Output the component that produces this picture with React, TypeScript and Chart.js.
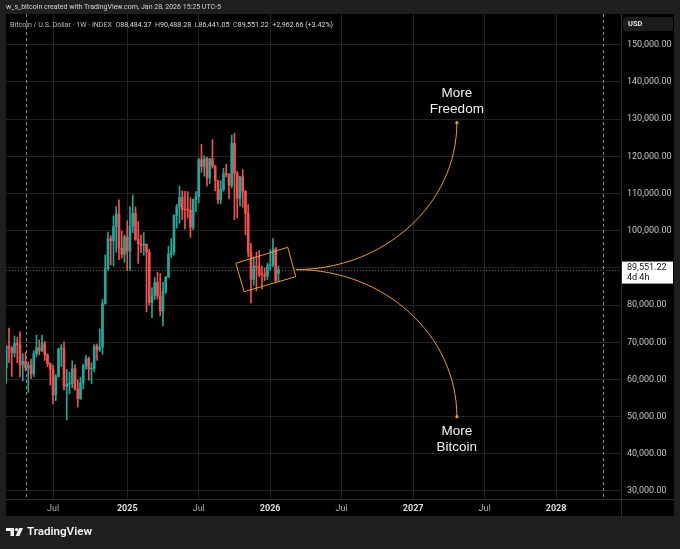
import React, { useEffect, useRef } from 'react';
import { Chart, registerables } from 'chart.js';

Chart.register(...registerables);

// week index 0 = week of 1 Jul 2024; first candle = week of 4 Mar 2024
const FIRST_WEEK = -17;

const opens = [
  63100, 68950, 68400, 67200, 69650, 69350, 63900, 64900, 63100, 63900,
  61500, 66900, 68500, 67750, 69650, 66650, 64250, 62700, 55850, 60800,
  68200, 68250, 58100, 58700, 58900, 62900, 57300, 54850, 59100, 63600,
  65600, 62800, 63000, 69000, 68000, 68700, 80400, 89800, 97900, 97300,
  101100, 104500, 95300, 93700, 98300, 94500, 101300, 104700, 97700, 96500,
  96100, 96300, 94300, 80700, 82600, 86100, 82400, 78400, 83700, 87500,
  93700, 94300, 104100, 106400, 109000, 105700, 105600, 105500, 100900, 108400,
  109200, 119100, 117300, 119400, 114200, 119300, 117400, 113500, 108300, 111100,
  115300, 115200, 112200, 123500, 115300, 108700, 114500, 110600, 104700, 94200,
  86900, 90400, 90200, 88200, 88100, 87800, 90600, 90800, 95100, 88484.37,
];
const highs = [
  69000, 73800, 68900, 71700, 71300, 72800, 66900, 67200, 64700, 65500,
  67700, 71900, 70600, 71900, 70200, 66900, 64500, 63800, 61300, 68400,
  69400, 70100, 62700, 62000, 65000, 64000, 59800, 60600, 64100, 66500,
  66000, 64500, 69400, 69500, 73600, 81500, 93500, 99600, 98700, 104000,
  106500, 108300, 99900, 98900, 102700, 106400, 109600, 106400, 102500, 98800,
  99500, 96500, 95000, 84700, 87400, 88800, 88500, 86100, 87700, 95800,
  97900, 104300, 107100, 112000, 110700, 110600, 110500, 108900, 108500, 110500,
  119500, 123200, 120200, 119800, 119500, 124500, 117600, 113600, 113400, 116800,
  117900, 115400, 125700, 126200, 116000, 114600, 116400, 110800, 107000, 96600,
  93000, 94200, 94600, 90500, 90000, 91200, 94800, 97900, 95500, 90488.28,
];
const lows = [
  59000, 64500, 60800, 66000, 64500, 60700, 59600, 62400, 56500, 60200,
  60700, 66100, 66600, 67500, 65100, 63400, 58500, 53500, 54300, 60600,
  63500, 57100, 49100, 56100, 57800, 57200, 52600, 54600, 57500, 62700,
  59800, 58900, 62000, 65100, 67500, 66800, 80200, 89400, 90800, 90500,
  94200, 92200, 92600, 91500, 89300, 89300, 99500, 97400, 91200, 94100,
  93400, 78200, 80000, 76600, 81500, 81600, 77100, 74400, 83100, 87500,
  92800, 93400, 100700, 102000, 103000, 100400, 103400, 98200, 100300, 105100,
  107500, 115700, 114700, 112000, 112700, 116800, 110700, 107300, 107300, 110600,
  114400, 108600, 111500, 103000, 103500, 106700, 106300, 98900, 93000, 80600,
  85300, 83800, 87600, 84400, 86600, 86800, 89300, 90300, 86100, 86441.05,
];
const closes = [
  68950, 68400, 67200, 69650, 69350, 63900, 64900, 63100, 63900, 61500,
  66900, 68500, 67750, 69650, 66650, 64250, 62700, 55850, 60800, 68200,
  68250, 58100, 58700, 58900, 62900, 57300, 54850, 59100, 63600, 65600,
  62800, 63000, 69000, 68000, 68700, 80400, 89800, 97900, 97300, 101100,
  104500, 95300, 93700, 98300, 94500, 101300, 104700, 97700, 96500, 96100,
  96300, 94300, 80700, 82600, 86100, 82400, 78400, 83700, 87500, 93700,
  94300, 104100, 106400, 109000, 105700, 105600, 105500, 100900, 108400, 109200,
  119100, 117300, 119400, 114200, 119300, 117400, 113500, 108300, 111100, 115300,
  115200, 112200, 123500, 115300, 108700, 114500, 110600, 104700, 94200, 86900,
  90400, 90200, 88200, 88100, 87800, 90600, 90800, 95100, 86588.56, 89551.22,
];

const xTickWeeks = [0, 27, 53, 79, 105, 131, 157, 183];
const xTickLabels = ['Jul', '2025', 'Jul', '2026', 'Jul', '2027', 'Jul', '2028'];
const yTickValues = [30000, 40000, 50000, 60000, 70000, 80000, 90000, 100000, 110000, 120000, 130000, 140000, 150000];
const halvingWeeks = [-9.8, 200.1];

// annotation anchors, in (week index, price)
const boxCorners = [[66.5, 91243], [85.4, 95545], [88.3, 87637], [69.5, 83604]];
const arrowStart = [88.3, 89551.22];
const arrowUpEnd = [146.9, 129057];
const arrowDownEnd = [146.9, 49984];
const upText = ['More', 'Freedom'];
const downText = ['More', 'Bitcoin'];

const headerText = 'w_s_bitcoin created with TradingView.com, Jan 28, 2026 15:25 UTC-5';
const symbolText = 'Bitcoin / U.S. Dollar · 1W · INDEX';
const countdownText = '4d 4h';

const UP = '#26a69a';
const DOWN = '#ef5350';
const ORANGE = '#ee9a2c';
const GRID = '#222222';
const FRAME = '#2c2c2c';
const OUTER = '#1f1f1f';
const PANEL = { l: 6, t: 14, r: 674, b: 516 };
const FAMILY = 'Roboto, "Liberation Sans", sans-serif';

const fmt = (v: number) =>
  v.toLocaleString('en-US', { minimumFractionDigits: 2, maximumFractionDigits: 2 });

function fitFont(ctx: CanvasRenderingContext2D, text: string, weight: string, family: string, target: number) {
  ctx.font = `${weight} 10px ${family}`;
  const w = ctx.measureText(text).width;
  const size = (10 * target) / w;
  return `${weight} ${size.toFixed(2)}px ${family}`;
}

const tvPlugin = {
  id: 'tvDecor',
  beforeDraw(chart: any) {
    const c: CanvasRenderingContext2D = chart.ctx;
    c.save();
    c.fillStyle = OUTER;
    c.fillRect(0, 0, chart.width, chart.height);
    c.fillStyle = '#000000';
    c.fillRect(PANEL.l, PANEL.t, PANEL.r - PANEL.l, PANEL.b - PANEL.t);
    c.restore();
  },
  beforeDatasetsDraw(chart: any) {
    const c: CanvasRenderingContext2D = chart.ctx;
    const { left, right, top, bottom } = chart.chartArea;
    const xs = chart.scales.x;
    const ys = chart.scales.y;
    c.save();
    c.beginPath();
    c.rect(left, top, right - left, bottom - top);
    c.clip();
    // halving lines
    c.strokeStyle = '#8a8a8a';
    c.lineWidth = 1;
    c.setLineDash([3, 3]);
    halvingWeeks.forEach((w) => {
      const x = Math.round(xs.getPixelForValue(w)) + 0.5;
      c.beginPath();
      c.moveTo(x, top);
      c.lineTo(x, bottom);
      c.stroke();
    });
    // last price line
    const last = closes[closes.length - 1];
    const y = Math.round(ys.getPixelForValue(last)) + 0.5;
    c.strokeStyle = 'rgba(170,170,170,0.55)';
    c.setLineDash([1, 2]);
    c.beginPath();
    c.moveTo(left, y);
    c.lineTo(right, y);
    c.stroke();
    c.restore();
  },
  afterDatasetsDraw(chart: any) {
    const c: CanvasRenderingContext2D = chart.ctx;
    const xs = chart.scales.x;
    const ys = chart.scales.y;
    const P = (p: number[]) => [xs.getPixelForValue(p[0]), ys.getPixelForValue(p[1])];
    c.save();
    // rotated box
    c.strokeStyle = ORANGE;
    c.lineWidth = 1;
    c.beginPath();
    boxCorners.forEach((p, i) => {
      const [x, y] = P(p);
      if (i === 0) c.moveTo(x, y);
      else c.lineTo(x, y);
    });
    c.closePath();
    c.stroke();
    // curved arrows (quarter-ellipse beziers)
    const [sx, sy] = P(arrowStart);
    const k = 0.5523;
    const drawArc = (end: number[]) => {
      const [ex, ey] = P(end);
      const rx = ex - sx;
      const ry = ey - sy;
      c.beginPath();
      c.moveTo(sx, sy);
      c.bezierCurveTo(sx + k * rx, sy, ex, ey - k * ry, ex, ey);
      c.stroke();
      c.fillStyle = ORANGE;
      c.beginPath();
      c.arc(ex, ey, 1.6, 0, Math.PI * 2);
      c.fill();
      return [ex, ey];
    };
    const [ux, uy] = drawArc(arrowUpEnd);
    const [dx, dy] = drawArc(arrowDownEnd);
    // texts
    c.fillStyle = '#f2f2f2';
    c.textAlign = 'center';
    c.textBaseline = 'middle';
    c.font = '13.5px "Liberation Sans", Arial, sans-serif';
    c.fillText(upText[0], ux, uy - 29.5);
    c.fillText(upText[1], ux, uy - 13.8);
    c.fillText(downText[0], dx, dy + 15);
    c.fillText(downText[1], dx, dy + 30.6);
    c.restore();
  },
  afterDraw(chart: any) {
    const c: CanvasRenderingContext2D = chart.ctx;
    const { right, bottom } = chart.chartArea;
    const ys = chart.scales.y;
    c.save();
    // frame lines
    c.strokeStyle = FRAME;
    c.lineWidth = 1;
    c.beginPath();
    c.moveTo(Math.round(right) + 0.5, PANEL.t);
    c.lineTo(Math.round(right) + 0.5, PANEL.b);
    c.moveTo(PANEL.l, Math.round(bottom) + 0.5);
    c.lineTo(PANEL.r, Math.round(bottom) + 0.5);
    c.stroke();

    // last price label on the axis
    const last = closes[closes.length - 1];
    const py = ys.getPixelForValue(last);
    c.fillStyle = '#ffffff';
    c.fillRect(right + 1, py - 8, PANEL.r - right - 2, 22);
    c.fillStyle = '#131313';
    c.textAlign = 'left';
    c.textBaseline = 'middle';
    c.font = `9px ${FAMILY}`;
    c.fillText(fmt(last), right + 6, py - 1.5);
    c.fillText(countdownText, right + 6, py + 8.5);

    // USD box
    c.fillStyle = '#1c1c1c';
    c.beginPath();
    (c as any).roundRect(right + 2, 17, 50, 14, 3);
    c.fill();
    c.fillStyle = '#e6e6e6';
    c.font = `bold 7.5px ${FAMILY}`;
    c.fillText('USD', right + 7, 24.5);

    // header line above the panel
    c.fillStyle = '#d4d4d4';
    c.font = fitFont(c, headerText, 'normal', FAMILY, 215);
    c.fillText(headerText, 6, 7.5);

    // symbol / OHLC legend
    const n = closes.length - 1;
    const chg = closes[n] - closes[n - 1];
    const pct = (chg / closes[n - 1]) * 100;
    const val = '#e3d3d8';
    const lab = '#bdbdbd';
    const parts: [string, string][] = [
      [symbolText + '  ', lab],
      ['O', lab], [fmt(opens[n]) + '  ', val],
      ['H', lab], [fmt(highs[n]) + '  ', val],
      ['L', lab], [fmt(lows[n]) + '  ', val],
      ['C', lab], [fmt(closes[n]) + '  ', val],
      [`${chg >= 0 ? '+' : ''}${fmt(chg)} (${chg >= 0 ? '+' : ''}${pct.toFixed(2)}%)`, val],
    ];
    const full = parts.map((p) => p[0]).join('');
    c.font = fitFont(c, full, 'normal', FAMILY, 323);
    let x = 10;
    parts.forEach(([t, col]) => {
      c.fillStyle = col;
      c.fillText(t, x, 25);
      x += c.measureText(t).width;
    });

    // footer logo
    c.fillStyle = '#f4f4f4';
    c.fillRect(6, 528, 8, 3);
    c.fillRect(10.5, 528, 3.5, 8);
    c.beginPath();
    c.arc(16.6, 529.6, 1.7, 0, Math.PI * 2);
    c.fill();
    c.beginPath();
    c.moveTo(19.2, 528);
    c.lineTo(23, 528);
    c.lineTo(19.4, 536);
    c.lineTo(15.6, 536);
    c.closePath();
    c.fill();
    c.font = fitFont(c, 'TradingView', '600', FAMILY, 65);
    c.textBaseline = 'middle';
    c.fillText('TradingView', 27, 532.5);
    c.restore();
  },
};

export default function App() {
  const ref = useRef<HTMLCanvasElement>(null);

  useEffect(() => {
    const canvas = ref.current as HTMLCanvasElement;
    const weeks = opens.map((_, i) => FIRST_WEEK + i);
    const colors = weeks.map((_, i) => (closes[i] >= opens[i] ? UP : DOWN));

    const chart = new Chart(canvas, {
      type: 'bar',
      data: {
        datasets: [
          {
            label: 'body',
            data: weeks.map((w, i) => ({ x: w, y: [opens[i], closes[i]] })) as any,
            backgroundColor: colors,
            borderWidth: 0,
            barThickness: 2,
            maxBarThickness: 2,
            minBarLength: 1,
            grouped: false,
            order: 0,
          } as any,
          {
            label: 'wick',
            data: weeks.map((w, i) => ({ x: w, y: [lows[i], highs[i]] })) as any,
            backgroundColor: colors,
            borderWidth: 0,
            barThickness: 1,
            maxBarThickness: 1,
            grouped: false,
            order: 1,
          } as any,
        ],
      },
      options: {
        animation: false,
        responsive: false,
        events: [],
        layout: { padding: { left: 6, top: 14, right: 6, bottom: 33 } },
        plugins: { legend: { display: false }, tooltip: { enabled: false } },
        scales: {
          x: {
            type: 'linear',
            min: -17.1,
            max: 206.6,
            offset: false,
            grid: { color: GRID, offset: false, drawTicks: false },
            border: { display: false },
            afterBuildTicks: (scale: any) => {
              scale.ticks = xTickWeeks.map((v) => ({ value: v }));
            },
            afterFit: (scale: any) => {
              scale.height = 17;
            },
            ticks: {
              autoSkip: false,
              maxRotation: 0,
              padding: 4,
              callback: (_v: any, i: number) => xTickLabels[i],
              font: (ctx: any) => ({
                family: FAMILY,
                size: 9,
                weight: /^\d/.test(xTickLabels[ctx.index] || '') ? 'bold' : 'normal',
              }),
              color: (ctx: any) => (/^\d/.test(xTickLabels[ctx.index] || '') ? '#dedede' : '#a8a8a8'),
            },
          },
          y: {
            type: 'linear',
            position: 'right',
            min: 27848,
            max: 158284,
            beginAtZero: false,
            grid: { color: GRID, drawTicks: false },
            border: { display: false },
            afterBuildTicks: (scale: any) => {
              scale.ticks = yTickValues.map((v) => ({ value: v }));
            },
            afterFit: (scale: any) => {
              scale.width = 53;
            },
            ticks: {
              padding: 6,
              color: '#c4c4c4',
              font: { family: FAMILY, size: 9 },
              callback: (v: any) => fmt(Number(v)),
            },
          },
        },
      } as any,
      plugins: [tvPlugin as any],
    });

    return () => chart.destroy();
  }, []);

  return (
    <div style={{ position: 'fixed', left: 0, top: 0, width: 680, height: 549, background: OUTER }}>
      <canvas ref={ref} width={680} height={549} style={{ display: 'block', width: 680, height: 549 }} />
    </div>
  );
}
